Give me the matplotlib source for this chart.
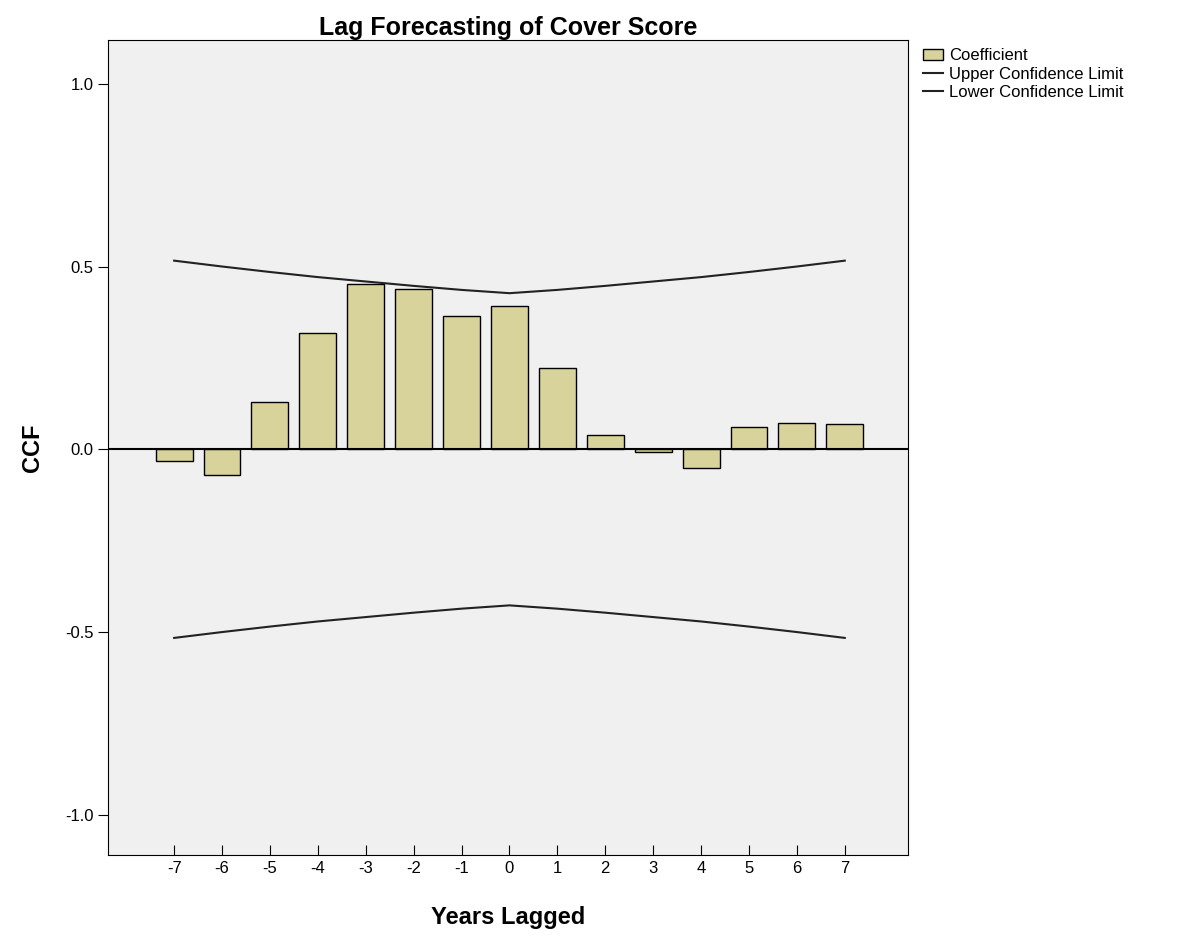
import matplotlib
matplotlib.use("Agg")
import matplotlib.pyplot as plt
from matplotlib.patches import Patch
from matplotlib.lines import Line2D

lags = [-7, -6, -5, -4, -3, -2, -1, 0, 1, 2, 3, 4, 5, 6, 7]
coef = [-0.033, -0.071, 0.13, 0.318, 0.452, 0.438, 0.364, 0.392, 0.222, 0.038, -0.008, -0.052, 0.06, 0.071, 0.068]
upper = [0.516, 0.5, 0.485, 0.471, 0.459, 0.447, 0.436, 0.427, 0.436, 0.447, 0.459, 0.471, 0.485, 0.5, 0.516]
lower = [-u for u in upper]

plt.rcParams['font.family'] = ['Liberation Sans', 'DejaVu Sans']
fig = plt.figure(figsize=(11.91, 9.49), dpi=100)
ax = fig.add_axes([0.0907, 0.099, 0.6717, 0.859])
ax.set_facecolor('#f0f0f0')
ax.bar(lags, coef, width=0.77, color='#d8d39a', edgecolor='black', linewidth=1, zorder=3)
ax.plot(lags, upper, color='#222222', lw=1.5, zorder=3)
ax.plot(lags, lower, color='#222222', lw=1.5, zorder=3)
ax.axhline(0, color='black', lw=1.5, zorder=4)
ax.set_xlim(-8.38, 8.32)
ax.set_ylim(-1.11, 1.12)
ax.set_xticks(lags)
ax.set_xticklabels([str(l) for l in lags], fontsize=12)
ax.set_yticks([-1.0, -0.5, 0.0, 0.5, 1.0])
ax.set_yticklabels(['-1.0', '-0.5', '0.0', '0.5', '1.0'], fontsize=12)
ax.tick_params(axis='y', direction='out', length=7, color='black')
ax.tick_params(axis='x', direction='in', length=7, color='black', pad=4)
ax.set_xlabel('Years Lagged', fontsize=17, fontweight='bold', labelpad=22)
ax.set_ylabel('CCF', fontsize=17, fontweight='bold', labelpad=15)
ax.set_title('Lag Forecasting of Cover Score', fontsize=18, fontweight='bold', pad=3)
handles = [Patch(facecolor='#d8d39a', edgecolor='black', label='Coefficient'),
           Line2D([], [], color='#222222', lw=1.5, label='Upper Confidence Limit'),
           Line2D([], [], color='#222222', lw=1.5, label='Lower Confidence Limit')]
fig.legend(handles=handles, loc='upper left', bbox_to_anchor=(0.762, 0.965), frameon=False,
           fontsize=12, handlelength=1.2, handletextpad=0.4, labelspacing=0.2)
fig.savefig('out.png', dpi=100)
